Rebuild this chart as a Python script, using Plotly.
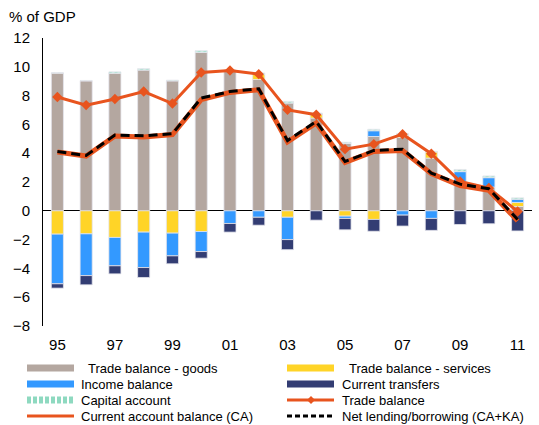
import plotly.graph_objects as go

# % of GDP, 1995-2011
years = list(range(1995, 2012))
goods = [9.56, 9.02, 9.55, 9.77, 9.02, 11.0, 9.68, 9.12, 7.48, 6.44, 4.68, 5.16, 5.09, 3.66, 2.0, 1.65, 0.3]
services = [-1.62, -1.6, -1.85, -1.48, -1.55, -1.44, 0.05, 0.35, -0.45, 0.27, -0.37, -0.6, 0.15, 0.42, 0.0, 0.0, 0.28]
income = [-3.45, -2.9, -1.97, -2.46, -1.58, -1.39, -0.88, -0.45, -1.55, 0.0, -0.16, 0.4, -0.3, -0.53, 0.72, 0.65, 0.22]
transfers = [-0.3, -0.64, -0.56, -0.69, -0.55, -0.46, -0.6, -0.55, -0.7, -0.65, -0.79, -0.82, -0.76, -0.83, -0.95, -0.9, -1.4]
capital = [0.03, 0.03, 0.1, 0.1, 0.05, 0.12, 0.05, 0.1, 0.12, 0.08, 0.08, 0.1, 0.12, 0.05, 0.15, 0.12, 0.1]
trade_balance = [7.9, 7.34, 7.76, 8.28, 7.45, 9.6, 9.74, 9.49, 7.01, 6.67, 4.28, 4.63, 5.32, 3.96, 2.03, 1.58, -0.05]
ca_balance = [4.08, 3.8, 5.2, 5.13, 5.3, 7.72, 8.22, 8.4, 4.78, 6.1, 3.36, 4.12, 4.18, 2.58, 1.75, 1.42, -0.7]
net_lending = [4.12, 3.84, 5.26, 5.21, 5.35, 7.83, 8.28, 8.47, 4.88, 6.2, 3.42, 4.19, 4.28, 2.62, 1.85, 1.53, -0.6]
tick_years = years[::2]
tick_labels = [str(y)[2:] for y in tick_years]

FONT = "Liberation Sans, Arial, sans-serif"
ORANGE = "#E8541E"
GOODS_C, SERV_C, INC_C, TRANS_C = "#B4A7A0", "#FFD427", "#3399FF", "#333D73"
CAP_C = "#8ED9C0"

W, H = 539, 425
L, R, T, B = 43, 7, 38, 99
PW, PH = W - L - R, H - T - B


def px(x):
    return (x - L) / PW


def py(y):
    return (H - B - y) / PH


fig = go.Figure()

for name, vals, color in [("Trade balance - goods", goods, GOODS_C),
                          ("Trade balance - services", services, SERV_C),
                          ("Income balance", income, INC_C),
                          ("Current transfers", transfers, TRANS_C)]:
    fig.add_trace(go.Bar(
        x=years, y=vals, name=name, width=0.42,
        marker=dict(color=color, line=dict(color="#E4E4EC", width=0.8))
    ))

fig.add_trace(go.Bar(
    x=years, y=capital, name="Capital account", width=0.42,
    marker=dict(color="#CDEFE4", line=dict(color="#E4E4EC", width=0.8),
                pattern=dict(shape="/", fgcolor="#6FCFB0", size=4, solidity=0.5))
))

fig.add_trace(go.Scatter(
    x=years, y=trade_balance, name="Trade balance", mode="lines+markers",
    line=dict(color=ORANGE, width=3),
    marker=dict(symbol="diamond", size=8, color=ORANGE)
))
fig.add_trace(go.Scatter(
    x=years, y=ca_balance, name="Current account balance (CA)", mode="lines",
    line=dict(color=ORANGE, width=5)
))
fig.add_trace(go.Scatter(
    x=years, y=net_lending, name="Net lending/borrowing (CA+KA)", mode="lines",
    line=dict(color="black", width=3, dash="9px,5px")
))

# legend drawn by hand: two columns, wide swatches as in the original
legend_items = [
    ("Trade balance - goods", dict(color=GOODS_C, width=7), 27, 86, 368),
    ("Trade balance - services", dict(color=SERV_C, width=7), 287, 347, 368),
    ("Income balance", dict(color=INC_C, width=7), 27, 79, 384),
    ("Current transfers", dict(color=TRANS_C, width=7), 287, 340, 384),
    ("Capital account", dict(color=CAP_C, width=7, dash="4px,2px"), 27, 79, 400),
    ("Trade balance", dict(color=ORANGE, width=3), 287, 340, 400),
    ("Current account balance (CA)", dict(color=ORANGE, width=3), 27, 79, 416),
    ("Net lending/borrowing (CA+KA)", dict(color="black", width=3, dash="5px,3px"), 287, 340, 416),
]
shapes = []
annotations = []
for label, line, sx, tx, ry in legend_items:
    shapes.append(dict(type="line", xref="paper", yref="paper",
                       x0=px(sx), x1=px(sx + 47), y0=py(ry), y1=py(ry), line=line))
    annotations.append(dict(text=label, xref="paper", yref="paper", x=px(tx), y=py(ry),
                            xanchor="left", yanchor="middle", showarrow=False,
                            font=dict(size=13)))
# diamond on the trade balance swatch
cx, cy = 311, 400
shapes.append(dict(type="path", xref="paper", yref="paper", fillcolor=ORANGE, line=dict(width=0),
                   path=f"M {px(cx - 4)},{py(cy)} L {px(cx)},{py(cy - 4)} "
                        f"L {px(cx + 4)},{py(cy)} L {px(cx)},{py(cy + 4)} Z"))

annotations.append(dict(text="% of GDP", xref="paper", yref="paper", x=px(7), y=py(16),
                        xanchor="left", yanchor="middle", showarrow=False, font=dict(size=15)))

fig.update_layout(
    width=W, height=H,
    margin=dict(l=L, r=R, t=T, b=B),
    barmode="relative",
    showlegend=False,
    plot_bgcolor="white", paper_bgcolor="white",
    font=dict(family=FONT, size=13, color="black"),
    xaxis=dict(
        range=[1994.5, 2011.5], tickvals=tick_years, ticktext=tick_labels,
        showgrid=False, zeroline=False, showline=False, automargin=False,
        tickfont=dict(size=15), ticklabelstandoff=8
    ),
    yaxis=dict(
        range=[-8, 12], dtick=2, showgrid=False, automargin=False,
        showline=True, linecolor="black", linewidth=1,
        zeroline=True, zerolinecolor="black", zerolinewidth=1,
        tickfont=dict(size=15), ticklabelstandoff=9, layer="above traces"
    ),
    shapes=shapes,
    annotations=annotations
)

# the page has a default 8px body margin; drop it so the chart fills the window
fig.write_html("out.html", config={"displayModeBar": False},
               post_script="document.body.style.margin = '0';")
